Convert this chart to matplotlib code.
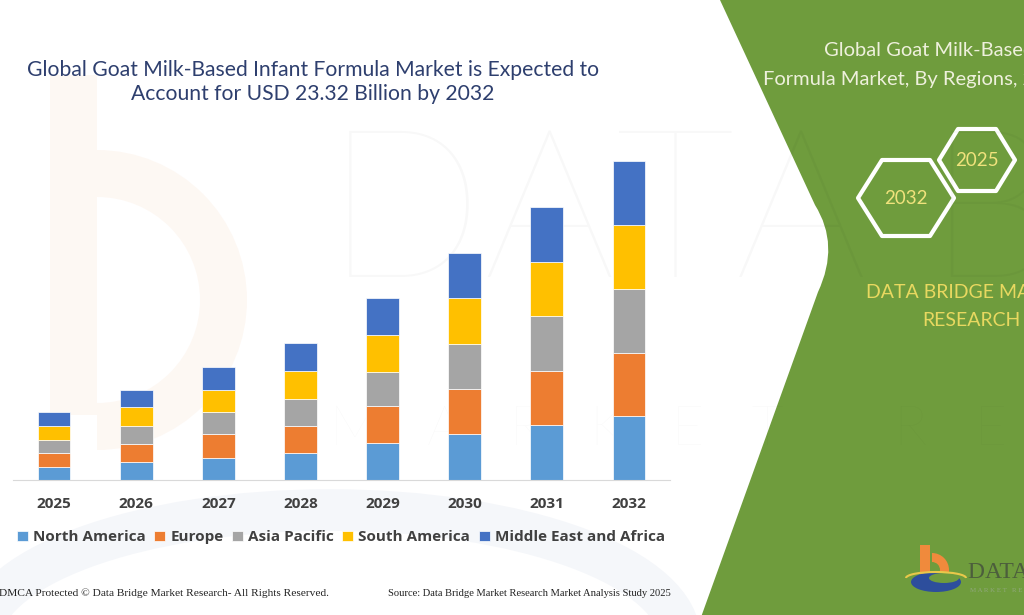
import matplotlib
matplotlib.use('Agg')
import numpy as np
from matplotlib import pyplot as plt
from matplotlib.path import Path
from matplotlib.patches import PathPatch, Polygon, Rectangle, Wedge, Ellipse, Arc

# data (USD billion)
years = ['2025', '2026', '2027', '2028', '2029', '2030', '2031', '2032']
regions = ['North America', 'Europe', 'Asia Pacific', 'South America', 'Middle East and Africa']
north_america = [0.93, 1.29, 1.61, 1.95, 2.68, 3.34, 4.00, 4.67]
europe = [1.04, 1.36, 1.73, 2.02, 2.72, 3.29, 3.97, 4.65]
asia_pacific = [0.97, 1.31, 1.63, 1.95, 2.53, 3.33, 4.02, 4.65]
south_america = [1.02, 1.37, 1.63, 2.05, 2.70, 3.36, 3.94, 4.65]
middle_east_africa = [1.02, 1.26, 1.66, 2.05, 2.67, 3.29, 4.04, 4.70]
colors = ['#5b9bd5', '#ed7d31', '#a5a5a5', '#ffc000', '#4472c4']

green = '#6f9c3d'

fig = plt.figure(figsize=(10.24, 6.15), dpi=100)

# background layer in pixel coordinates
bg = fig.add_axes([0, 0, 1, 1], zorder=0)
bg.set_xlim(0, 1024)
bg.set_ylim(615, 0)
bg.axis('off')

# faint watermark logo "b" on the left
bg.add_patch(Rectangle((50, 75), 47, 340, color='#f9dcc4', alpha=0.2, lw=0))
bg.add_patch(Wedge((97, 300), 150, -90, 90, width=47, color='#f9dcc4', alpha=0.2, lw=0))
bg.add_patch(Arc((330, 640), 700, 260, theta1=180, theta2=360, color='#c9d3e6', alpha=0.18, lw=30))

# faint watermark text (the green panel covers its right part)
bg.text(325, 220, 'DATA BRIDGE', fontsize=150, family='Lato', fontweight='light',
        color='#000000', alpha=0.028, va='center', ha='left')
bg.text(330, 430, 'M   A   R   K   E   T       R   E   S   E   A   R   C   H', fontsize=40,
        family='Lato', fontweight='light', color='#000000', alpha=0.025, va='center', ha='left')

# green side panel
verts = [(720, 0), (1030, 0), (1030, 620), (700, 620), (818, 292), (840, 245), (815, 205), (720, 0)]
codes = [Path.MOVETO, Path.LINETO, Path.LINETO, Path.LINETO, Path.LINETO,
         Path.CURVE3, Path.CURVE3, Path.CLOSEPOLY]
bg.add_patch(PathPatch(Path(verts, codes), facecolor=green, edgecolor='none'))

bg.text(824, 50, 'Global Goat Milk-Based Infant', fontsize=14.5, family='Lato',
        color='#eef0dc', va='center', ha='left')
bg.text(763, 79, 'Formula Market, By Regions, 2025 to 2032', fontsize=14.5, family='Lato',
        color='#eef0dc', va='center', ha='left')


def hexagon(cx, cy, hw, hh):
    pts = [(cx - hw, cy), (cx - hw / 2, cy - hh), (cx + hw / 2, cy - hh),
           (cx + hw, cy), (cx + hw / 2, cy + hh), (cx - hw / 2, cy + hh)]
    bg.add_patch(Polygon(pts, closed=True, fill=False, edgecolor='white', lw=3, joinstyle='round'))


hexagon(906, 198, 48, 38)
hexagon(977, 160, 38, 31)
bg.text(906, 198, '2032', fontsize=13.5, family='Lato', color='#f0e27c', ha='center', va='center')
bg.text(977, 160, '2025', fontsize=13.5, family='Lato', color='#f0e27c', ha='center', va='center')

bg.text(866, 292, 'DATA BRIDGE MARKET', fontsize=14, family='Lato', color='#e8d860',
        ha='left', va='center')
bg.text(922, 320, 'RESEARCH', fontsize=14, family='Lato', color='#e8d860', ha='left', va='center')

# logo bottom right
bg.add_patch(Rectangle((920, 545), 10, 33, color='#f08a3c', lw=0))
bg.add_patch(Wedge((932, 570), 17, -90, 90, width=9, color='#f08a3c', lw=0))
bg.add_patch(Ellipse((936, 582), 50, 20, color='#2d4e9c', lw=0))
bg.add_patch(Ellipse((944, 578), 30, 10, color=green, lw=0))
bg.add_patch(Arc((936, 578), 60, 12, theta1=180, theta2=360, color='#e8c84a', lw=1.5))
bg.text(968, 583, 'DATA BRIDGE', fontsize=17, family='Liberation Serif', color='#4c5e3c',
        ha='left', va='bottom')
bg.text(970, 590, 'M A R K E T   R E S E A R C H', fontsize=5, family='Liberation Serif',
        color='#8fa87a', ha='left', va='center')

# footer
bg.text(-1, 593, 'DMCA Protected \u00a9 Data Bridge Market Research- All Rights Reserved.',
        fontsize=8.2, family='Liberation Serif', color='#222222', ha='left', va='center')
bg.text(388, 593, 'Source: Data Bridge Market Research Market Analysis Study 2025',
        fontsize=7.6, family='Liberation Serif', color='#222222', ha='left', va='center')

# title
fig.text(313 / 1024, 1 - 82 / 615,
         'Global Goat Milk-Based Infant Formula Market is Expected to\nAccount for USD 23.32 Billion by 2032',
         fontsize=15.2, family='Lato', color='#2e3f6e', ha='center', va='center', linespacing=1.25)

# chart
ax = fig.add_axes([13 / 1024, 135 / 615, 657 / 1024, 342 / 615], zorder=2)
ax.patch.set_alpha(0)
x = np.arange(len(years))
series = [north_america, europe, asia_pacific, south_america, middle_east_africa]
bottom = np.zeros(len(years))
for name, vals, c in zip(regions, series, colors):
    ax.bar(x, vals, 0.4, bottom=bottom, color=c, label=name, edgecolor='white', linewidth=0.5)
    bottom += np.array(vals)

ax.set_xlim(-0.5, 7.5)
ax.set_ylim(0, 25)
ax.set_yticks([])
ax.set_xticks(x)
ax.set_xticklabels(years, fontsize=11, family='Open Sans', fontweight='bold', color='#404040')
ax.tick_params(axis='x', length=0, pad=12)
for s in ['top', 'right', 'left']:
    ax.spines[s].set_visible(False)
ax.spines['bottom'].set_color('#d9d9d9')

ax.legend(loc='center left', bbox_to_anchor=(0.006, -0.168), ncol=5, frameon=False,
          prop={'family': 'Open Sans', 'weight': 'bold', 'size': 11},
          labelcolor='#404040', handlelength=0.7, handleheight=0.7, handletextpad=0.35,
          columnspacing=0.56, borderpad=0, borderaxespad=0)

plt.savefig('out.png', dpi=100)
